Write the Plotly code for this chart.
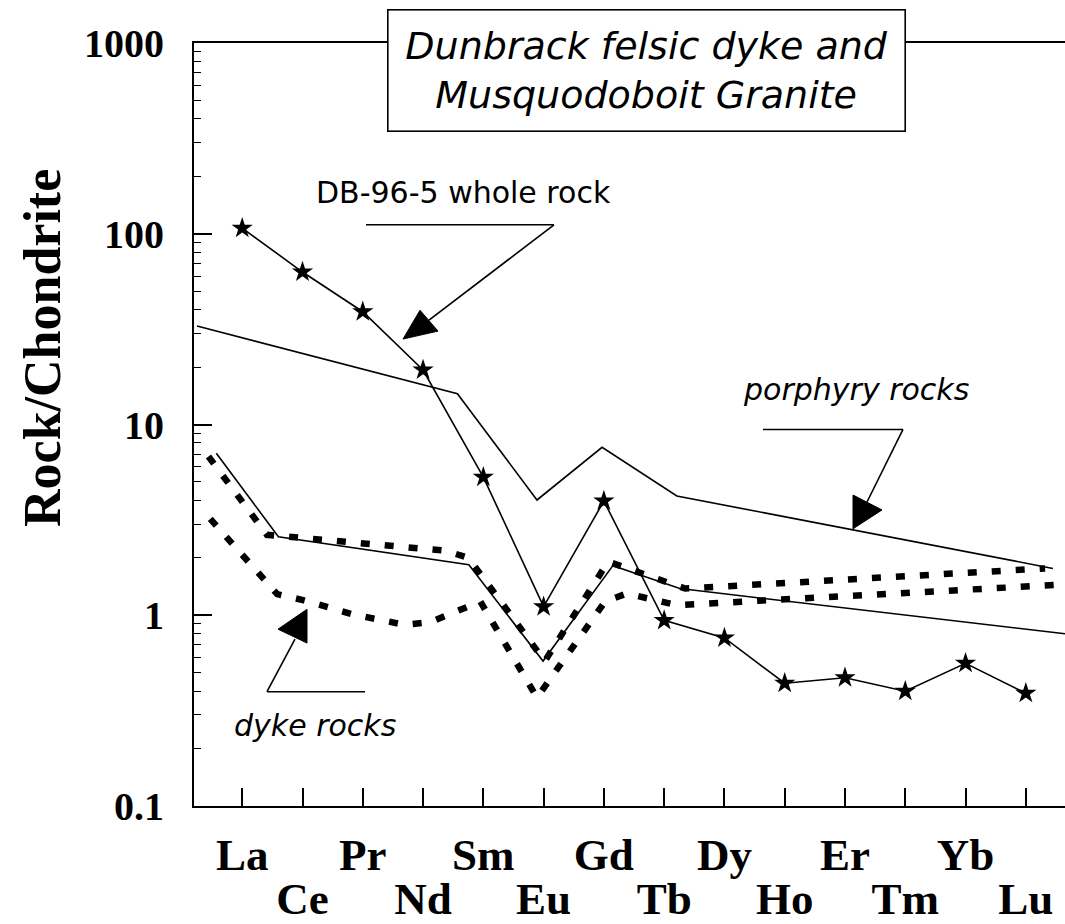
import plotly.graph_objects as go

# ---------------- data ----------------
ree = ["La", "Ce", "Pr", "Nd", "Sm", "Eu", "Gd", "Tb", "Dy", "Ho", "Er", "Tm", "Yb", "Lu"]
ree_pos = list(range(len(ree)))

# DB-96-5 whole rock (stars)
db_96_5 = [107, 63, 39, 19.3, 5.3, 1.11, 3.97, 0.94, 0.76, 0.44, 0.47, 0.40, 0.56, 0.39]

# porphyry rocks (upper solid line) - positions in REE index units
porphyry_x = [-0.75, 3.57, 4.89, 5.97, 7.21, 13.45]
porphyry_y = [32.8, 14.5, 4.02, 7.59, 4.22, 1.76]

# porphyry rocks (lower solid line)
porphyry2_x = [-0.43, 0.60, 3.76, 4.99, 6.15, 7.26, 13.65]
porphyry2_y = [7.06, 2.58, 1.84, 0.575, 1.82, 1.38, 0.80]

# dyke rocks (upper dotted)
dyke1_x = [-0.56, 0.41, 3.37, 3.75, 5.02, 6.07, 7.35, 13.32]
dyke1_y = [6.8, 2.64, 2.18, 2.0, 0.575, 1.91, 1.38, 1.76]

# dyke rocks (lower dotted)
dyke2_x = [-0.53, 0.58, 1.01, 1.84, 2.70, 3.12, 3.95, 4.89, 6.02, 6.38, 7.21, 13.65]
dyke2_y = [3.2, 1.29, 1.2, 1.01, 0.89, 0.92, 1.18, 0.37, 1.18, 1.30, 1.13, 1.45]

y_tickvals = [0.1, 1, 10, 100, 1000]
y_ticktext = ["0.1", "1", "10", "100", "1000"]

# ---------------- layout helpers ----------------
W, H = 1065, 924
L, R, T, B = 194, 1065, 43, 811


def PX(px):
    return (px - L) / (R - L)


def PY(py):
    return (B - py) / (B - T)


fig = go.Figure()

fig.add_trace(go.Scatter(x=porphyry_x, y=porphyry_y, mode="lines",
                         line=dict(color="black", width=1.6), showlegend=False))
fig.add_trace(go.Scatter(x=porphyry2_x, y=porphyry2_y, mode="lines",
                         line=dict(color="black", width=1.6), showlegend=False))
fig.add_trace(go.Scatter(x=dyke1_x, y=dyke1_y, mode="lines",
                         line=dict(color="black", width=6.5, dash="9px,15px"), showlegend=False))
fig.add_trace(go.Scatter(x=dyke2_x, y=dyke2_y, mode="lines",
                         line=dict(color="black", width=6.5, dash="9px,15px"), showlegend=False))
fig.add_trace(go.Scatter(x=ree_pos, y=db_96_5, mode="lines+markers",
                         line=dict(color="black", width=1.6),
                         marker=dict(symbol="star", size=16, color="black", line=dict(width=0)),
                         showlegend=False))

even = ree_pos[0::2]
odd = ree_pos[1::2]
xr = [-0.8, 13.65]
tickfont_x = dict(family="Liberation Serif", size=45, color="black", weight="bold")

fig.update_layout(
    width=W, height=H,
    margin=dict(l=L, r=W - R, t=T, b=H - B, pad=0),
    paper_bgcolor="white", plot_bgcolor="white",
    xaxis=dict(range=xr, showgrid=False, zeroline=False, showline=True, linecolor="black",
               linewidth=2, mirror=True, ticks="inside", ticklen=18, tickwidth=1.6,
               tickcolor="black", tickvals=even, ticktext=[ree[i] for i in even],
               tickfont=tickfont_x, ticklabelstandoff=8),
    xaxis2=dict(range=xr, overlaying="x", anchor="y", side="bottom", showgrid=False,
                zeroline=False, showline=False, ticks="inside", ticklen=18, tickwidth=1.6,
                tickcolor="black", tickvals=odd, ticktext=[ree[i] for i in odd],
                tickfont=tickfont_x, ticklabelstandoff=62),
    yaxis=dict(type="log", range=[-1, 3], showgrid=False, zeroline=False, showline=True,
               linecolor="black", linewidth=2, ticks="inside", ticklen=18, tickwidth=1.6,
               tickcolor="black", tickvals=y_tickvals, ticktext=y_ticktext,
               tickfont=dict(family="Liberation Serif", size=40, color="black", weight="bold"),
               ticklabelstandoff=20,
               minor=dict(ticks="inside", ticklen=7, tickwidth=1.2, tickcolor="black",
                          dtick="D1", showgrid=False)),
)

# a dummy trace on xaxis2 so the axis is drawn
fig.add_trace(go.Scatter(x=[None], y=[None], xaxis="x2", showlegend=False, hoverinfo="skip"))

annos = []
# y-axis title
annos.append(dict(text="Rock/Chondrite", x=PX(42), y=PY(350), xref="paper", yref="paper",
                  showarrow=False, textangle=-90, xanchor="center", yanchor="middle",
                  font=dict(family="Liberation Serif", size=52, color="black", weight="bold")))
# title box
annos.append(dict(text="Dunbrack felsic dyke and<br>Musquodoboit Granite",
                  x=PX(646), y=PY(71), xref="paper", yref="paper", showarrow=False,
                  xanchor="center", yanchor="middle", align="center",
                  width=516, height=120, bgcolor="white", bordercolor="black",
                  borderwidth=1.6, borderpad=0,
                  font=dict(family="DejaVu Sans", size=38, color="black", style="italic")))
annos.append(dict(text="DB-96-5 whole rock", x=PX(463), y=PY(193), xref="paper", yref="paper",
                  showarrow=False, xanchor="center", yanchor="middle",
                  font=dict(family="DejaVu Sans", size=30, color="black")))
annos.append(dict(text="porphyry rocks", x=PX(856), y=PY(392), xref="paper", yref="paper",
                  showarrow=False, xanchor="center", yanchor="middle",
                  font=dict(family="DejaVu Sans", size=30, color="black", style="italic")))
annos.append(dict(text="dyke rocks", x=PX(315), y=PY(730), xref="paper", yref="paper",
                  showarrow=False, xanchor="center", yanchor="middle",
                  font=dict(family="DejaVu Sans", size=30, color="black", style="italic")))
fig.update_layout(annotations=annos)

shapes = []


def seg(x0, y0, x1, y1):
    shapes.append(dict(type="line", xref="paper", yref="paper",
                       x0=PX(x0), y0=PY(y0), x1=PX(x1), y1=PY(y1),
                       line=dict(color="black", width=1.6)))


def tri(p):
    path = "M " + " L ".join(f"{PX(a)},{PY(b)}" for a, b in p) + " Z"
    shapes.append(dict(type="path", xref="paper", yref="paper", path=path,
                       fillcolor="black", line=dict(color="black", width=1)))


# DB-96-5 leader
seg(366, 226, 554, 226)
seg(554, 226, 429, 322)
tri([(403, 341), (420, 312), (438, 333)])
# porphyry leader
seg(763, 432, 903, 432)
seg(903, 432, 867, 505)
tri([(853, 498), (882, 513), (853, 532)])
# dyke leader
seg(267, 696, 365, 696)
seg(267, 696, 295, 643)
tri([(278, 633), (307, 613), (307, 647)])

fig.update_layout(shapes=shapes)

fig.write_html("out.html", config={"displayModeBar": False},
               post_script="document.body.style.margin='0px';document.body.style.overflow='hidden';")
